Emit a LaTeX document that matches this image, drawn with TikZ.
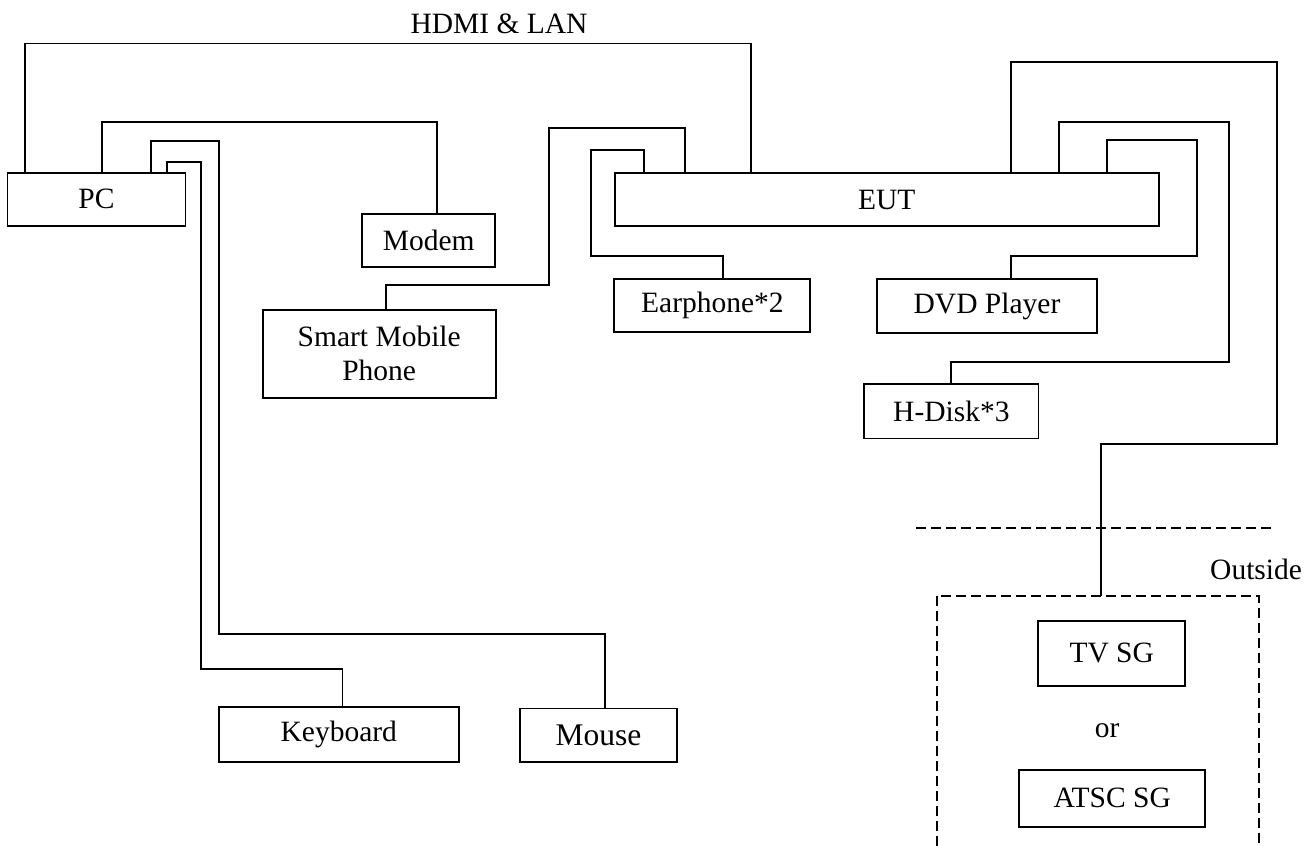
\documentclass[tikz,border=0pt]{standalone}
\usepackage{fontspec}
\setmainfont{Liberation Serif}
\begin{document}
\begin{tikzpicture}[x=1pt,y=-1pt,
  wire/.style={line width=1.9pt, line join=miter},
  box/.style={draw, line width=1.9pt, inner sep=0pt, font=\fontsize{29.5}{34}\selectfont, align=center},
  lbl/.style={inner sep=0pt, font=\fontsize{29.5}{34}\selectfont},
  dsh/.style={line width=1.9pt, dash pattern=on 10pt off 5pt}]
\useasboundingbox (0,0) rectangle (1315,846);
% boxes
\node[box, minimum width=178pt, minimum height=52.5pt] (pc) at (96.5,199.3) {PC};
\node[box, minimum width=133pt, minimum height=53.6pt] (modem) at (428.8,240.5) {Modem};
\node[box, minimum width=233pt, minimum height=87.7pt] (phone) at (379.2,353.8) {Smart Mobile\\Phone};
\node[box, minimum width=543.7pt, minimum height=52.4pt] (eut) at (886.8,199.5) {EUT};
\node[box, minimum width=196pt, minimum height=52.4pt] (ear) at (712.4,305.5) {Earphone*2};
\node[box, minimum width=219.4pt, minimum height=54pt] (dvd) at (987,306.3) {DVD Player};
\node[box, minimum width=174.2pt, minimum height=54.5pt] (hdisk) at (951.4,411.2) {H-Disk*3};
\node[box, minimum width=240.5pt, minimum height=54.7pt] (kbd) at (338.8,734.4) {Keyboard};
\node[box, minimum width=157pt, minimum height=53.5pt, font=\fontsize{31.5}{34}\selectfont] (mouse) at (598.5,735.2) {Mouse};
\node[box, minimum width=146.7pt, minimum height=65.3pt] (tvsg) at (1111.7,653.3) {TV SG};
\node[box, minimum width=186.3pt, minimum height=57.3pt] (atsc) at (1112.2,798.3) {ATSC SG};
% labels
\node[lbl, anchor=base] (hdmi) at (499,33.3) {HDMI \& LAN};
\node[lbl, anchor=base west] (outside) at (1210,579) {Outside};
\node[lbl, anchor=base] (or) at (1107.2,737) {or};
% outside area
\draw[dsh] (916,527.7) -- (1275,527.7);
\draw[dsh] (936.7,846) -- (936.7,595.7) -- (1259.3,595.7) -- (1259.3,846);
\coordinate (outtop) at (1100.7,595.7);
% wires
\draw[wire] (pc.north -| 25,0) -- (25,43.5) -| (eut.north -| 750.6,0);
\draw[wire] (pc.north -| 102,0) -- (102,122.4) -| (modem.north -| 437,0);
\draw[wire] (pc.north -| 151,0) -- (151,140.6) -- (218.7,140.6) -- (218.7,634) -| (mouse.north -| 605,0);
\draw[wire] (pc.north -| 167,0) -- (167,162) -- (200.8,162) -- (200.8,669) -| (kbd.north -| 342.5,0);
\draw[wire] (phone.north -| 386,0) -- (386,285) -- (548.7,285) -- (548.7,128.3) -| (eut.north -| 684.7,0);
\draw[wire] (eut.north -| 644,0) -- (644,150) -- (590.7,150) -- (590.7,256) -| (ear.north -| 722.7,0);
\draw[wire] (eut.north -| 1107,0) -- (1107,140.3) -- (1197.3,140.3) -- (1197.3,256) -| (dvd.north -| 1011,0);
\draw[wire] (eut.north -| 1058.7,0) -- (1058.7,122.3) -- (1228.7,122.3) -- (1228.7,362.3) -| (hdisk.north -| 950.7,0);
\draw[wire] (eut.north -| 1011,0) -- (1011,62) -- (1276.6,62) -- (1276.6,444) -| (outtop);
\end{tikzpicture}
\end{document}
